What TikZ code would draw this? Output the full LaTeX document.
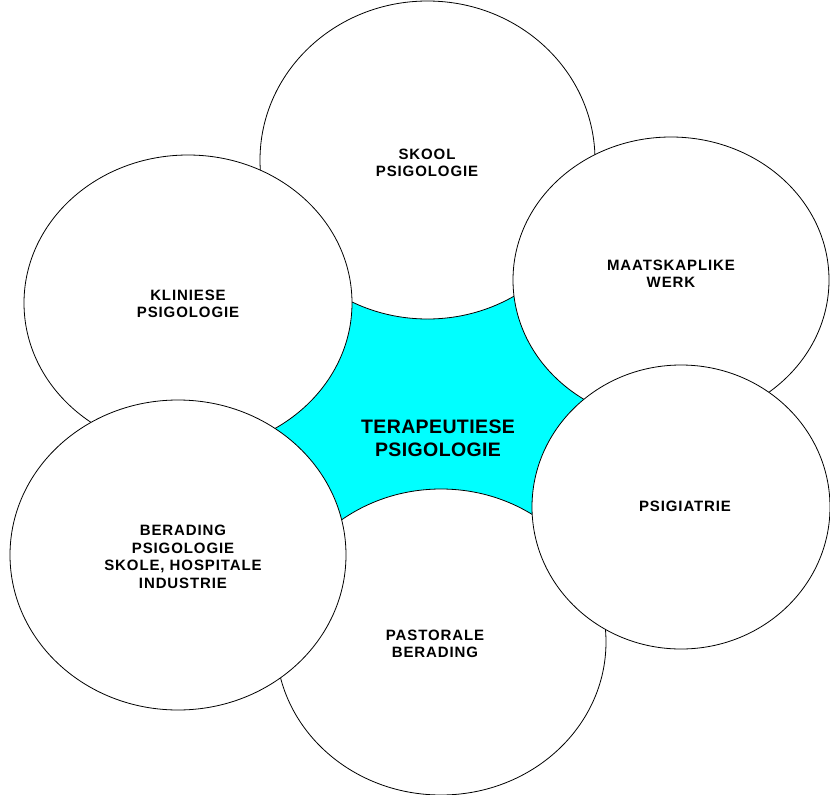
\documentclass[tikz,border=0pt]{standalone}
\usepackage{fontspec}
\setmainfont{Liberation Sans}
\newfontfamily\labfont{Liberation Sans Bold}[LetterSpace=6]
\newfontfamily\cenfont{Liberation Sans Bold}[LetterSpace=2]
\usetikzlibrary{shapes.geometric}
\definecolor{aqua}{RGB}{0,255,255}
\begin{document}
\begin{tikzpicture}[x=1pt,y=-1pt,
  blob/.style={ellipse,draw=black,line width=0.8pt,fill=white,inner sep=0pt,outer sep=0pt},
  lab/.style={align=center,font=\labfont\fontsize{15}{17.5}\selectfont,inner sep=0pt},
  cenlab/.style={align=center,font=\cenfont\fontsize{19.5}{22.7}\selectfont,inner sep=0pt}]
\useasboundingbox (0,0) rectangle (830,795);
% central cyan area
\fill[aqua] (350,296) -- (516,292) -- (592,403) -- (538,518) -- (336,523) -- (270,433) -- cycle;
% circles, back to front
\node[blob,minimum width=335pt,minimum height=318pt] (skool) at (427.5,160) {};
\node[blob,minimum width=328pt,minimum height=296pt] (klin) at (188,303) {};
\node[blob,minimum width=316pt,minimum height=286pt] (maat) at (671,280) {};
\node[blob,minimum width=330pt,minimum height=306pt] (past) at (441,642) {};
\node[blob,minimum width=336pt,minimum height=310pt] (berad) at (178,555) {};
\node[blob,minimum width=298pt,minimum height=284pt] (psig) at (681,507) {};
% labels
\node[lab] (tskool) at (427,163) {SKOOL\\PSIGOLOGIE};
\node[lab] (tmaat) at (671,274) {MAATSKAPLIKE\\WERK};
\node[lab] (tklin) at (188,304) {KLINIESE\\PSIGOLOGIE};
\node[cenlab] (tcen) at (438,438) {TERAPEUTIESE\\PSIGOLOGIE};
\node[lab] (tpsig) at (685,506) {PSIGIATRIE};
\node[lab] (tberad) at (183,557) {BERADING\\PSIGOLOGIE\\SKOLE, HOSPITALE\\INDUSTRIE};
\node[lab] (tpast) at (435,644) {PASTORALE\\BERADING};
\end{tikzpicture}
\end{document}
